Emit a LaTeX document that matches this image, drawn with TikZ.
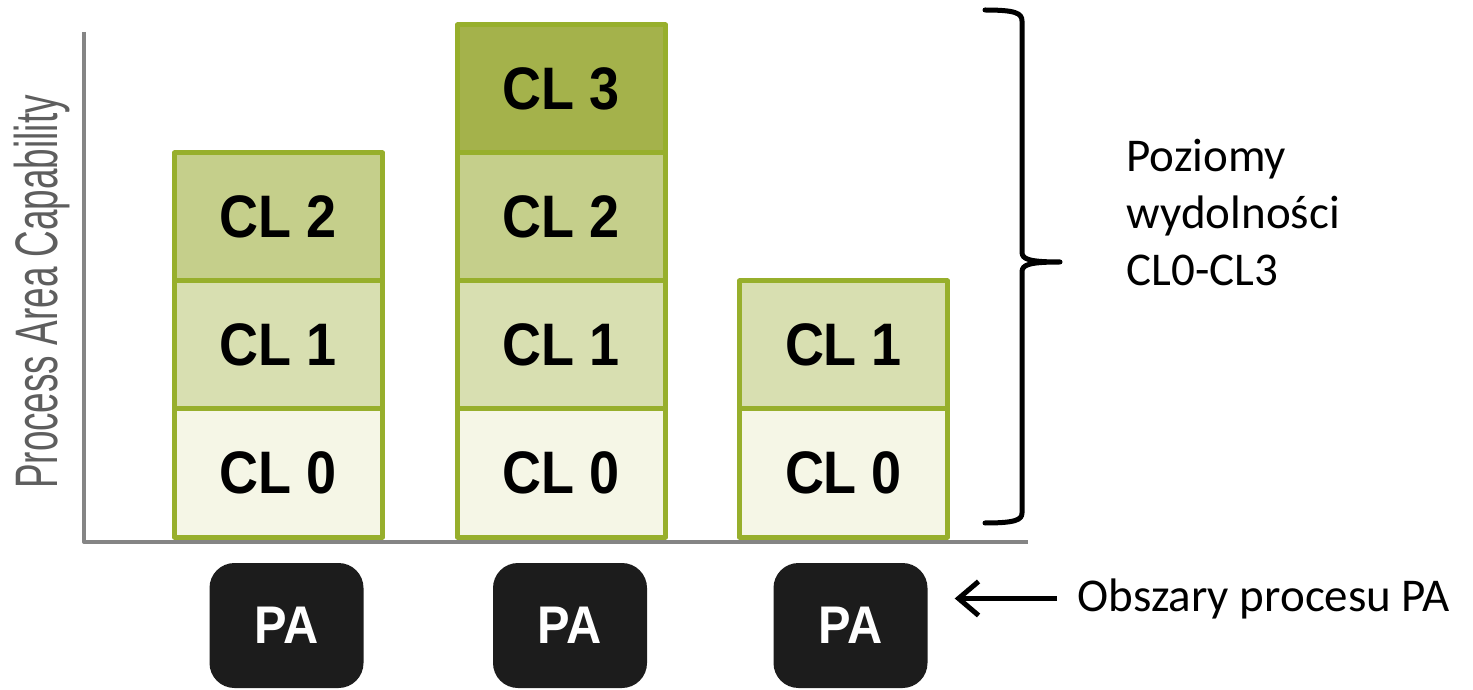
\documentclass[tikz,border=0pt]{standalone}
\usepackage{fontspec}
\usepackage{graphicx}
\usetikzlibrary{arrows.meta}

\newfontfamily\chartfont{Liberation Sans}
\newfontfamily\notefont{Carlito}

\definecolor{clzero}{HTML}{F5F6E6}
\definecolor{clone}{HTML}{D8DFB1}
\definecolor{cltwo}{HTML}{C5CF8B}
\definecolor{clthree}{HTML}{A4B24B}
\definecolor{barline}{HTML}{97AF2C}
\definecolor{axisgray}{HTML}{858585}
\definecolor{labelgray}{HTML}{5E5E5E}
\definecolor{pablack}{HTML}{1C1C1C}

\newcommand{\cltxt}[1]{\scalebox{0.9}[1]{CL #1}}

\tikzset{
  level/.style={draw=barline, line width=5pt, minimum width=208pt, minimum height=128pt,
    inner sep=0pt, font=\chartfont\bfseries\fontsize{60}{60}\selectfont},
  lvl0/.style={level, fill=clzero},
  lvl1/.style={level, fill=clone},
  lvl2/.style={level, fill=cltwo},
  lvl3/.style={level, fill=clthree},
  pabox/.style={fill=pablack, rounded corners=25pt, minimum width=154pt, minimum height=125pt,
    inner sep=0pt, text=white, font=\chartfont\bfseries\fontsize{53}{53}\selectfont},
  note/.style={font=\notefont\fontsize{47}{57}\selectfont, align=left},
  axis/.style={draw=axisgray, line width=4pt},
}

\begin{document}
\begin{tikzpicture}[x=1pt,y=1pt,line join=round]
  \useasboundingbox (0,0) rectangle (1473,689);

  % axes
  \coordinate (O) at (84,147);
  \coordinate (Y) at (84,657);
  \coordinate (X) at (1028,147);
  \draw[axis] (Y)--(O)--(X);
  \node[rotate=90, text=labelgray, font=\chartfont\fontsize{60}{60}\selectfont] (ylab) at (42,397)
    {\scalebox{0.615}[1]{Process Area Capability}};

  % capability levels
  \node[lvl0] (a0) at (278.5,216) {\cltxt{0}};
  \node[lvl1] (a1) at (278.5,344) {\cltxt{1}};
  \node[lvl2] (a2) at (278.5,472) {\cltxt{2}};

  \node[lvl0] (b0) at (561.5,216) {\cltxt{0}};
  \node[lvl1] (b1) at (561.5,344) {\cltxt{1}};
  \node[lvl2] (b2) at (561.5,472) {\cltxt{2}};
  \node[lvl3] (b3) at (561.5,600) {\cltxt{3}};

  \node[lvl0] (c0) at (843.5,216) {\cltxt{0}};
  \node[lvl1] (c1) at (843.5,344) {\cltxt{1}};

  % process areas
  \node[pabox] (pa1) at (286.5,63.5) {\scalebox{0.92}[1]{PA}};
  \node[pabox] (pa2) at (570,63.5) {\scalebox{0.92}[1]{PA}};
  \node[pabox] (pa3) at (850.5,63.5) {\scalebox{0.92}[1]{PA}};

  \node[note, anchor=base west] (panote) at (1074,78) {Obszary procesu PA};
  \draw[-{Straight Barb[length=20pt,width=34pt]}, line width=5pt, shorten <=17pt, shorten >=27pt]
    (panote.west) -- (panote.west -| pa3.east);

  % brace over the levels
  \coordinate (T) at (985,679);
  \coordinate (M) at (1060,427);
  \coordinate (B) at (985,166);
  \draw[line width=5pt, line cap=round]
    (T) .. controls (1015,679) and (1022,676) .. (1022,668) -- (1022,437)
        .. controls (1022,430) and (1028,427) .. (M)
        .. controls (1028,427) and (1022,424) .. (1022,417) -- (1022,176)
        .. controls (1022,169) and (1015,166) .. (B);
  \node[note, anchor=north west] (lvlnote) at (1123,553) {Poziomy\\wydolności\\CL0-CL3};
\end{tikzpicture}
\end{document}
